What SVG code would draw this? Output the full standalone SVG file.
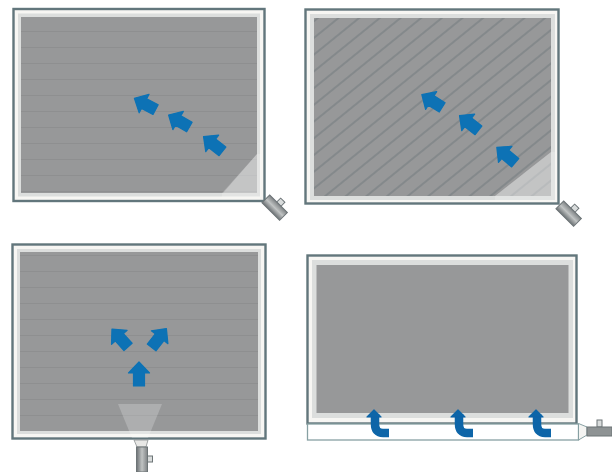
<svg xmlns="http://www.w3.org/2000/svg" width="612" height="472" viewBox="0 0 612 472">
<style>
.frame{fill:#f7f6f3;stroke:#62767b;stroke-width:2.4}
.mat{fill:#dcdedd}
.grey{fill:#979899}
.ln{stroke:#8b8d8e;stroke-width:.8;fill:none}
.arr{fill:#0b72b5;stroke:#0b72b5;stroke-width:1.2;stroke-linejoin:round}
.bent{fill:none;stroke:#0b65a8;stroke-width:8.5;stroke-linejoin:round}
.wash{fill:#fff;fill-opacity:.3}
.noz{fill:url(#metal);stroke:#6d7477;stroke-width:1}
.knob{fill:#d9dcdc;stroke:#6d7477;stroke-width:1}
</style>
<defs>
<linearGradient id="metal" x1="0" y1="0" x2="1" y2="0"><stop offset="0" stop-color="#6b7073"/><stop offset=".5" stop-color="#c0c3c3"/><stop offset="1" stop-color="#7f8385"/></linearGradient>
<filter id="soft" x="-5%" y="-5%" width="110%" height="110%"><feGaussianBlur stdDeviation=".5"/></filter>
<path id="a" class="arr" d="M0-12 10.500-1H5.500V12H-5.500V-1H-10.500Z"/>
<g id="b"><path class="bent" d="M1-12V-2Q1 7 9 7H15"/><path class="arr" style="fill:#0b65a8;stroke:#0b65a8" d="M0-16 7-9H-7Z"/></g>
<pattern id="hl" width="10" height="16" patternUnits="userSpaceOnUse"><path class="ln" d="M0 15.500H10"/></pattern>
<pattern id="dl" width="20" height="13" patternUnits="userSpaceOnUse" patternTransform="rotate(-39)"><path d="M0 6H20" stroke="#6c7679" stroke-width=".9" fill="none"/></pattern>
</defs>
<g filter="url(#soft)">
<g id="panel-a">
<rect class="frame" x="13.500" y="9" width="251" height="192"/>
<rect class="mat" x="18" y="13.500" width="242" height="183"/>
<rect class="grey" x="21" y="17" width="236" height="176"/>
<rect x="21" y="17" width="236" height="176" fill="url(#hl)"/>
<path d="M257 154H261V197H222V193Z" fill="#fff" fill-opacity=".2"/>
<path class="wash" d="M257 154V193H223Z"/>
<use href="#a" transform="translate(145 104) rotate(-62)"/>
<use href="#a" transform="translate(179 121) rotate(-60)"/>
<use href="#a" transform="translate(213 144) rotate(-52)"/>
<g transform="translate(275 208) rotate(-45)"><rect class="knob" x="5" y="-3" width="6" height="6"/><rect class="noz" x="-5.500" y="-13" width="11" height="25"/></g>
</g>
<g id="panel-b">
<rect class="frame" x="305.500" y="9.500" width="253" height="194"/>
<rect class="mat" x="310" y="14" width="245" height="186"/>
<rect class="grey" x="314" y="18" width="237" height="178"/>
<rect x="314" y="18" width="237" height="178" fill="url(#dl)"/>
<path class="wash" d="M551 152V196H495Z"/>
<path d="M551 152H555V200H495V196Z" fill="#fff" fill-opacity=".18"/>
<use href="#a" transform="translate(432 101) rotate(-58)"/>
<use href="#a" transform="translate(469 123) rotate(-52)"/>
<use href="#a" transform="translate(506 155) rotate(-50)"/>
<g transform="translate(569 214) rotate(-45)"><rect class="knob" x="5" y="-3" width="6" height="6"/><rect class="noz" x="-5.500" y="-13" width="11" height="25"/></g>
</g>
<g id="panel-c">
<rect class="frame" x="12.500" y="244.500" width="253" height="194"/>
<rect class="mat" x="17" y="249" width="244" height="185"/>
<rect class="grey" x="20" y="252" width="238" height="179"/>
<rect x="20" y="252" width="238" height="179" fill="url(#hl)"/>
<path d="M118 404H162L148 438H132Z" fill="#fff" fill-opacity=".22"/>
<use href="#a" transform="translate(139 374)"/>
<use href="#a" transform="translate(120 338) rotate(-42)"/>
<use href="#a" transform="translate(159 338) rotate(38)"/>
<path d="M134 440H148L146 447H137Z" fill="#e8e8e6" stroke="#8b9192" stroke-width=".8"/>
<rect class="knob" x="147" y="456" width="5.500" height="6"/>
<rect class="noz" x="136.500" y="447" width="11" height="25"/>
</g>
<g id="panel-d">
<rect class="frame" x="307.500" y="255.500" width="269" height="168"/>
<rect class="mat" x="312" y="260" width="261" height="158"/>
<rect class="grey" x="316.500" y="265" width="252" height="148"/>
<rect x="307.500" y="424" width="271" height="16" fill="#fff" stroke="#87a0a3" stroke-width="1.300"/>
<path d="M578.500 423.500 587 427V435L578.500 440Z" fill="#f4f4f2" stroke="#87a0a3" stroke-width="1"/>
<rect class="knob" x="597" y="420" width="5" height="7"/>
<rect class="noz" x="587" y="427" width="25" height="9" style="fill:#8e9394"/>
<use href="#b" transform="translate(374 426)"/>
<use href="#b" transform="translate(458 426)"/>
<use href="#b" transform="translate(536 426)"/>
</g>
</g>
</svg>
